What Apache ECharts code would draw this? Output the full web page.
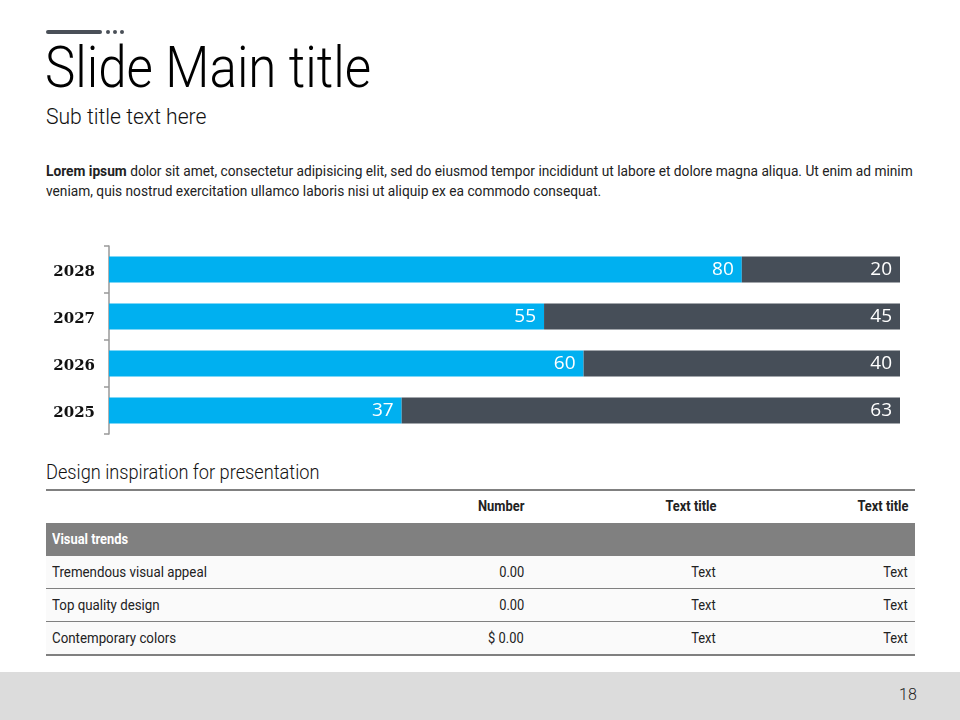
<!DOCTYPE html>
<html><head><meta charset="utf-8">
<script src="https://cdn.jsdelivr.net/npm/echarts@6/dist/echarts.min.js"></script>
<style>
html,body{margin:0;padding:0;background:#fff;}
#slide{position:relative;width:960px;height:720px;overflow:hidden;font-family:"Roboto",sans-serif;color:#111;}
.abs{position:absolute;white-space:nowrap;}
.nl{transform-origin:left center;}
.nr{transform-origin:right center;}
#chart{position:absolute;left:0;top:231px;width:960px;height:220px;}
.row{position:absolute;left:46px;width:869px;height:33px;}
.cell{position:absolute;top:0;line-height:33px;font-size:14px;color:#222;white-space:nowrap;}
</style></head>
<body><div id="slide">
<div class="abs" style="left:46px;top:30px;width:56px;height:4px;border-radius:2px;background:#4a5058;"></div>
<div class="abs" style="left:106px;top:30px;width:4px;height:4px;border-radius:2px;background:#4a5058;"></div>
<div class="abs" style="left:113px;top:30px;width:4px;height:4px;border-radius:2px;background:#4a5058;"></div>
<div class="abs" style="left:120px;top:30px;width:4px;height:4px;border-radius:2px;background:#4a5058;"></div>
<div class="abs nl" id="title" style="left:45px;top:32px;font-size:58px;line-height:70px;font-weight:300;color:#000;transform:scaleX(0.88);">Slide Main title</div>
<div class="abs nl" style="left:46px;top:104px;font-size:22px;line-height:26px;font-weight:300;color:#111;transform:scaleX(0.96);">Sub title text here</div>
<div class="abs nl" style="left:46px;top:161px;font-size:14px;line-height:20px;color:#222;transform:scaleX(0.98);"><b>Lorem ipsum</b> dolor sit amet, consectetur adipisicing elit, sed do eiusmod tempor incididunt ut labore et dolore magna aliqua. Ut enim ad minim<br>veniam, quis nostrud exercitation ullamco laboris nisi ut aliquip ex ea commodo consequat.</div>
<div id="chart"></div>
<div class="abs nl" style="left:46px;top:460px;font-size:20px;line-height:24px;font-weight:300;color:#111;transform:scaleX(0.91);">Design inspiration for presentation</div>
<div id="tbl"></div>
<div class="abs" style="left:0;top:672px;width:960px;height:48px;background:#dcdcdc;"></div>
<div class="abs" style="left:899px;top:684px;font-size:16px;line-height:22px;color:#222;font-weight:300;">18</div>
</div>
<script>
// ---- data ----
var categories = ['2025', '2026', '2027', '2028'];
var seriesA = [37, 60, 55, 80];
var seriesB = [63, 40, 45, 20];
var tableHeader = ['', 'Number', 'Text title', 'Text title'];
var tableGroup = 'Visual trends';
var tableRows = [
  ['Tremendous visual appeal', '0.00', 'Text', 'Text'],
  ['Top quality design', '0.00', 'Text', 'Text'],
  ['Contemporary colors', '$ 0.00', 'Text', 'Text']
];

// ---- table ----
(function(){
  var host = document.getElementById('tbl');
  var rightEdges = [null, 524, 716, 908];
  var html = '';
  function cells(r, bold, color){
    var s = '';
    r.forEach(function(c, i){
      var st = 'font-weight:' + (bold ? 'bold' : 'normal') + ';' + (color ? 'color:' + color + ';' : '');
      if (i === 0) {
        s += '<div class="cell nl" style="left:6px;' + st + 'transform:scaleX(0.95);">' + c + '</div>';
      } else {
        s += '<div class="cell nr" style="right:' + (915 - rightEdges[i]) + 'px;' + st + 'transform:scaleX(0.92);">' + c + '</div>';
      }
    });
    return s;
  }
  var y = 490;
  html += '<div class="abs" style="left:46px;top:489px;width:869px;height:2px;background:#808080;"></div>';
  html += '<div class="row" style="top:' + y + 'px;">' + cells(tableHeader, true) + '</div>';
  y += 33;
  html += '<div class="row" style="top:' + y + 'px;background:#808080;"><div class="cell nl" style="left:6px;font-weight:bold;color:#fff;transform:scaleX(0.92);">' + tableGroup + '</div></div>';
  y += 33;
  tableRows.forEach(function(r){
    html += '<div class="row" style="top:' + y + 'px;background:#fafafa;">' + cells(r, false) + '</div>';
    html += '<div class="abs" style="left:46px;top:' + (y + 32) + 'px;width:869px;height:2px;background:#808080;"></div>';
    y += 33;
  });
  host.innerHTML = html;
})();

// ---- chart ----
var chart = echarts.init(document.getElementById('chart'), null, {renderer: 'canvas'});
var labelStyle = {show: true, position: 'insideRight', distance: 8, color: '#fff', fontSize: 19, fontFamily: 'Open Sans'};
chart.setOption({
  animation: false,
  grid: {left: 109, right: 60, top: 15, bottom: 17},
  xAxis: {type: 'value', min: 0, max: 100, show: false},
  yAxis: {
    type: 'category', data: categories,
    axisLine: {show: true, lineStyle: {color: '#999', width: 1.5}},
    axisTick: {show: true, length: 5, lineStyle: {color: '#999', width: 1.5}},
    axisLabel: {
      margin: 14,
      formatter: function (v) { return '{y|' + v + '}'; },
      rich: {y: {color: '#111', fontFamily: 'DejaVu Serif', fontWeight: 'bold', fontSize: 15, padding: [6, 0, 0, 0]}}
    }
  },
  series: [
    {type: 'bar', stack: 's', data: seriesA, barWidth: 26, itemStyle: {color: '#00b0f0'}, label: labelStyle},
    {type: 'bar', stack: 's', data: seriesB, barWidth: 26, itemStyle: {color: '#464e58'}, label: labelStyle}
  ]
});
</script>
</body></html>
